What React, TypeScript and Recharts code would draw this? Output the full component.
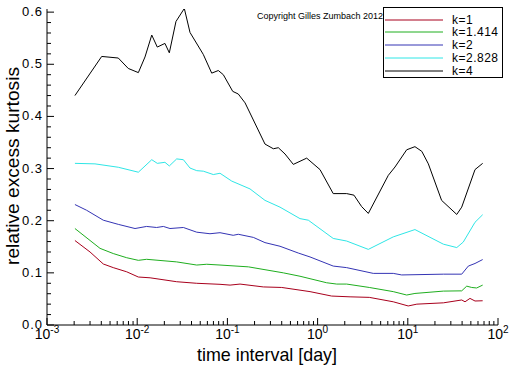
import React from "react";
import { LineChart, Line, XAxis, YAxis, Label } from "recharts";

// time interval [day] and relative excess kurtosis
const k1Times = [0.00204, 0.003, 0.00421, 0.00543, 0.00765, 0.0103, 0.0139, 0.0274, 0.0457, 0.0828, 0.107, 0.138, 0.25, 0.4, 0.824, 1.43, 2.29, 3.74, 6.9, 10.1, 12.6, 24.8, 39.6, 43.1, 48.9, 55.6, 67.6];
const k1Values = [0.162, 0.14, 0.117, 0.11, 0.102, 0.092, 0.0905, 0.083, 0.08, 0.078, 0.0765, 0.0785, 0.073, 0.072, 0.064, 0.0555, 0.054, 0.053, 0.0445, 0.0365, 0.04, 0.0425, 0.048, 0.0445, 0.051, 0.046, 0.0465];

const k1414Times = [0.00204, 0.00387, 0.00543, 0.00765, 0.0103, 0.0127, 0.0274, 0.0457, 0.059, 0.0828, 0.171, 0.417, 0.638, 1.26, 1.63, 2.1, 3.74, 6.9, 9.72, 12.0, 24.8, 39.6, 45.0, 51.1, 58.0, 67.6];
const k1414Values = [0.185, 0.147, 0.137, 0.129, 0.124, 0.126, 0.121, 0.115, 0.1165, 0.115, 0.1115, 0.1, 0.0935, 0.081, 0.0785, 0.0785, 0.072, 0.064, 0.0575, 0.0605, 0.065, 0.0655, 0.0745, 0.072, 0.071, 0.0765];

const k2Times = [0.00204, 0.00275, 0.00421, 0.00617, 0.00946, 0.0127, 0.0164, 0.0195, 0.0231, 0.0325, 0.0457, 0.0641, 0.0828, 0.116, 0.132, 0.194, 0.261, 0.383, 0.611, 0.824, 1.49, 2.1, 4.14, 6.9, 8.55, 24.8, 39.6, 46.9, 55.6, 67.6];
const k2Values = [0.231, 0.22, 0.201, 0.193, 0.185, 0.189, 0.187, 0.189, 0.185, 0.187, 0.178, 0.175, 0.177, 0.172, 0.174, 0.168, 0.158, 0.151, 0.138, 0.1305, 0.113, 0.11, 0.099, 0.099, 0.096, 0.0975, 0.0975, 0.113, 0.118, 0.1255];

const k2828Times = [0.00204, 0.0034, 0.00617, 0.0103, 0.0145, 0.0167, 0.0203, 0.0227, 0.0274, 0.0325, 0.0385, 0.0457, 0.0541, 0.0698, 0.0828, 0.1117, 0.178, 0.261, 0.383, 0.638, 0.789, 1.49, 2.1, 3.65, 6.9, 12.0, 24.8, 34.9, 41.2, 55.6, 67.6];
const k2828Values = [0.31, 0.309, 0.3025, 0.293, 0.317, 0.31, 0.312, 0.305, 0.3185, 0.317, 0.301, 0.296, 0.295, 0.2885, 0.291, 0.276, 0.261, 0.239, 0.226, 0.204, 0.201, 0.166, 0.161, 0.145, 0.169, 0.183, 0.155, 0.1485, 0.159, 0.197, 0.2115];

const k4Times = [0.00204, 0.00404, 0.00617, 0.00796, 0.0103, 0.0122, 0.0145, 0.0167, 0.0203, 0.0227, 0.0269, 0.0333, 0.0385, 0.054, 0.067, 0.0793, 0.0901, 0.1146, 0.132, 0.157, 0.261, 0.323, 0.367, 0.435, 0.538, 0.757, 1.064, 1.49, 2.1, 2.53, 3.08, 3.65, 6.08, 7.21, 9.72, 12.0, 14.3, 16.9, 23.7, 34.9, 39.6, 55.6, 67.6];
const k4Values = [0.44, 0.515, 0.512, 0.492, 0.484, 0.514, 0.556, 0.533, 0.54, 0.522, 0.582, 0.607, 0.561, 0.519, 0.483, 0.488, 0.48, 0.448, 0.443, 0.426, 0.347, 0.338, 0.34, 0.328, 0.308, 0.32, 0.298, 0.252, 0.252, 0.249, 0.227, 0.214, 0.287, 0.303, 0.336, 0.342, 0.333, 0.309, 0.239, 0.212, 0.226, 0.298, 0.31];

const seriesNames = ["k=1", "k=1.414", "k=2", "k=2.828", "k=4"];
const seriesColors = ["#a8001c", "#1fae1f", "#3434b4", "#2ee6e6", "#000000"];

const xMajorTicks = [0.001, 0.01, 0.1, 1, 10, 100];
const xMinorTicks = [
  0.002, 0.003, 0.004, 0.005, 0.006, 0.007, 0.008, 0.009,
  0.02, 0.03, 0.04, 0.05, 0.06, 0.07, 0.08, 0.09,
  0.2, 0.3, 0.4, 0.5, 0.6, 0.7, 0.8, 0.9,
  2, 3, 4, 5, 6, 7, 8, 9,
  20, 30, 40, 50, 60, 70, 80, 90,
];
const yMajorTicks = [0, 0.1, 0.2, 0.3, 0.4, 0.5, 0.6];
const yMinorTicks = [0.02, 0.04, 0.06, 0.08, 0.12, 0.14, 0.16, 0.18, 0.22, 0.24, 0.26, 0.28, 0.32, 0.34, 0.36, 0.38, 0.42, 0.44, 0.46, 0.48, 0.52, 0.54, 0.56, 0.58];

const pairs = (ts: number[], vs: number[]) => ts.map((t, i) => ({ t, v: vs[i] }));
const seriesData = [
  pairs(k1Times, k1Values),
  pairs(k1414Times, k1414Values),
  pairs(k2Times, k2Values),
  pairs(k2828Times, k2828Values),
  pairs(k4Times, k4Values),
];

const FONT = "'Liberation Sans', Arial, sans-serif";

const isMajorX = (v: number) => xMajorTicks.some((m) => Math.abs(m - v) / m < 1e-6);
const isMajorY = (v: number) => yMajorTicks.some((m) => Math.abs(m - v) < 1e-6);

function XTick(props: any) {
  const { x, y, payload } = props;
  const v = payload.value;
  const major = isMajorX(v);
  const exp = Math.round(Math.log10(v));
  return (
    <g>
      <line x1={x} y1={y} x2={x} y2={y - (major ? 7 : 4)} stroke="#000" />
      {major && (
        <text x={x} y={y + 14} textAnchor="middle" fontFamily={FONT} fontSize={14} fill="#000">
          <tspan>10</tspan>
          <tspan dy={-6} fontSize={10}>{String(exp)}</tspan>
        </text>
      )}
    </g>
  );
}

function YTick(props: any) {
  const { x, y, payload } = props;
  const v = payload.value;
  const major = isMajorY(v);
  return (
    <g>
      <line x1={x} y1={y} x2={x + (major ? 7 : 4)} y2={y} stroke="#000" />
      {major && (
        <text x={x - 4} y={y + 4} textAnchor="end" fontFamily={FONT} fontSize={13} letterSpacing={1} fill="#000">
          {v.toFixed(1)}
        </text>
      )}
    </g>
  );
}

// legend box drawn over the chart, top right
function LegendBox() {
  return (
    <div style={{ position: "absolute", left: 383, top: 7, width: 120, height: 71, border: "1px solid #000", boxSizing: "border-box", background: "#fff" }}>
      {seriesNames.map((name, i) => (
        <div key={name} style={{ position: "absolute", left: 1, top: 5.5 + i * 12.75, height: 12, display: "flex", alignItems: "center" }}>
          <svg width={58} height={12} style={{ display: "block" }}>
            <line x1={0} y1={6} x2={58} y2={6} stroke={seriesColors[i]} />
          </svg>
          <span style={{ marginLeft: 9, fontFamily: FONT, fontSize: 12, lineHeight: "12px", letterSpacing: 0.5, color: "#000", whiteSpace: "nowrap" }}>{name}</span>
        </div>
      ))}
    </div>
  );
}

export default function App() {
  return (
    <div style={{ position: "absolute", left: 0, top: 0, width: 512, height: 366, background: "#fff" }}>
      <LineChart width={512} height={366} margin={{ top: 9, right: 14, bottom: 0, left: 0 }}>
        <XAxis
          xAxisId="major"
          type="number"
          dataKey="t"
          scale="log"
          domain={[0.001, 100]}
          allowDataOverflow
          ticks={[...xMajorTicks, ...xMinorTicks]}
          interval={0}
          tickSize={0}
          tickMargin={0}
          tickLine={false}
          tick={<XTick />}
          height={41}
          axisLine={{ stroke: "#000" }}
        >
          <Label
            content={() => (
              <text x={267} y={361} textAnchor="middle" fontFamily={FONT} fontSize={19} textLength={140} lengthAdjust="spacingAndGlyphs" fill="#000">
                time interval [day]
              </text>
            )}
          />
        </XAxis>
        <YAxis
          type="number"
          domain={[0, 0.606]}
          allowDataOverflow
          ticks={[...yMajorTicks, ...yMinorTicks]}
          interval={0}
          tickSize={0}
          tickMargin={0}
          tickLine={false}
          tick={<YTick />}
          width={47}
          axisLine={{ stroke: "#000" }}
        >
          <Label
            content={() => (
              <text
                x={19}
                y={166}
                transform="rotate(-90 19 166)"
                textAnchor="middle"
                fontFamily={FONT}
                fontSize={19}
                textLength={198}
                lengthAdjust="spacingAndGlyphs"
                fill="#000"
              >
                relative excess kurtosis
              </text>
            )}
          />
        </YAxis>
        {seriesData.map((d, i) => (
          <Line
            key={seriesNames[i]}
            xAxisId="major"
            data={d}
            dataKey="v"
            name={seriesNames[i]}
            type="linear"
            stroke={seriesColors[i]}
            strokeWidth={1}
            dot={false}
            activeDot={false}
            isAnimationActive={false}
          />
        ))}
      </LineChart>
      <div style={{ position: "absolute", left: 257, top: 11, fontFamily: FONT, fontSize: 9, color: "#000", whiteSpace: "nowrap" }}>
        Copyright Gilles Zumbach 2012
      </div>
      <LegendBox />
    </div>
  );
}
